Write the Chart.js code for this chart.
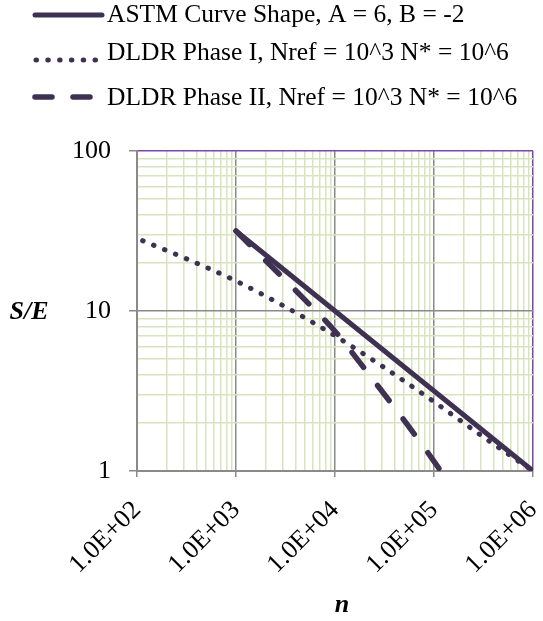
<!DOCTYPE html>
<html>
<head>
<meta charset="utf-8">
<script src="https://cdn.jsdelivr.net/npm/chart.js@4.4.0/dist/chart.umd.min.js"></script>
<style>
  html, body { margin: 0; padding: 0; background: #fff; }
  canvas { display: block; }
</style>
</head>
<body>
<canvas id="myChart" width="543" height="621"></canvas>
<script>
  // series (n, S/E)
  const astmN = [1000, 1000000]
  const astmS = [31.62, 1]

  const phase1N = [114, 316, 1000, 3162, 10000, 31623, 100000, 316228, 1000000]
  const phase1S = [27.5, 21.2, 15.4, 10.6, 7.0, 4.42, 2.71, 1.63, 1.0]

  const phase2N = [1000, 2000, 5000, 10000, 20000, 50000, 100000, 117000]
  const phase2S = [31.62, 20.6, 11.7, 7.48, 4.34, 2.07, 1.15, 1.0]

  const seriesNames = [
    'ASTM Curve Shape, A = 6, B = -2',
    'DLDR Phase I, Nref = 10^3 N* = 10^6',
    'DLDR Phase II, Nref = 10^3 N* = 10^6'
  ]

  const xTicks = [100, 1000, 10000, 100000, 1000000]
  const xTickLabels = ['1.0E+02', '1.0E+03', '1.0E+04', '1.0E+05', '1.0E+06']
  const yTicks = [1, 10, 100]
  const yTickLabels = ['1', '10', '100']

  const lineColor = '#3f3151'
  const majorGrid = '#8a8a8a'
  const minorGrid = '#d7e4bd'
  const frameColor = '#7a48a8'
  const serif = "'Liberation Serif', 'Times New Roman', serif"

  const toPoints = (xs, ys) => xs.map((x, i) => ({ x: x, y: ys[i] }))

  // decade lines plus 2..9 minors
  function gridValues(majors) {
    const out = []
    majors.forEach((m, i) => {
      out.push(m)
      if (i < majors.length - 1) {
        for (let k = 2; k <= 9; k++) out.push(m * k)
      }
    })
    return out
  }

  function gridColor(majors, max) {
    return (c) => {
      const v = c.tick ? c.tick.value : null
      if (v === max) return frameColor
      return majors.includes(v) ? majorGrid : minorGrid
    }
  }

  function tickMarkColor(majors) {
    return (c) => (c.tick && majors.includes(c.tick.value)) ? majorGrid : 'rgba(0,0,0,0)'
  }

  const legendRows = [
    { y: 15, x0: 35, x1: 102, ty: 22 },
    { y: 60, x0: 36, x1: 96, ty: 60 },
    { y: 97, x0: 35, x1: 97, ty: 105 }
  ]

  const extras = {
    id: 'extras',
    beforeDraw(chart) {
      const ctx = chart.ctx
      ctx.save()
      ctx.fillStyle = '#fff'
      ctx.fillRect(0, 0, chart.width, chart.height)
      ctx.restore()
    },
    afterDraw(chart) {
      const ctx = chart.ctx
      ctx.save()
      chart.data.datasets.forEach((ds, i) => {
        const r = legendRows[i]
        ctx.beginPath()
        ctx.strokeStyle = ds.borderColor
        ctx.lineWidth = ds.borderWidth
        ctx.lineCap = ds.borderCapStyle || 'butt'
        ctx.setLineDash(i === 2 ? [17, 21] : (ds.borderDash || []))
        ctx.moveTo(r.x0, r.y)
        ctx.lineTo(r.x1, r.y)
        ctx.stroke()
        ctx.setLineDash([])
        ctx.fillStyle = '#000'
        ctx.font = '25.5px ' + serif
        ctx.textBaseline = 'alphabetic'
        ctx.textAlign = 'left'
        ctx.fillText(ds.label, 107, r.ty)
      })

      // axis titles
      ctx.font = 'italic bold 26px ' + serif
      ctx.textAlign = 'center'
      ctx.textBaseline = 'middle'
      ctx.fillText('S/E', 29, 312)
      const area = chart.chartArea
      ctx.fillText('n', (area.left + area.right) / 2 + 7, 605)
      ctx.restore()
    }
  }

  const ctx = document.getElementById('myChart')

  const myChart = new Chart(ctx, {
    type: 'scatter',
    data: {
      datasets: [{
        label: seriesNames[0],
        data: toPoints(astmN, astmS),
        showLine: true,
        borderColor: lineColor,
        borderWidth: 5,
        borderCapStyle: 'round',
        pointRadius: 0
      }, {
        label: seriesNames[1],
        data: toPoints(phase1N, phase1S),
        showLine: true,
        borderColor: lineColor,
        borderWidth: 5,
        borderCapStyle: 'round',
        borderDash: [0.5, 11.3],
        cubicInterpolationMode: 'monotone',
        pointRadius: 0
      }, {
        label: seriesNames[2],
        data: toPoints(phase2N, phase2S),
        showLine: true,
        borderColor: lineColor,
        borderWidth: 5.5,
        borderCapStyle: 'round',
        borderDash: [19, 23],
        cubicInterpolationMode: 'monotone',
        pointRadius: 0
      }]
    },
    options: {
      responsive: false,
      animation: false,
      layout: {
        padding: { top: 151, right: 10, left: 0, bottom: 0 }
      },
      plugins: {
        legend: { display: false },
        tooltip: { enabled: false }
      },
      scales: {
        x: {
          type: 'logarithmic',
          min: 100,
          max: 1000000,
          afterBuildTicks: (scale) => {
            scale.ticks = gridValues(xTicks).map(v => ({ value: v }))
          },
          afterFit: (scale) => {
            scale.height = 150
            scale.paddingRight = 0
            scale.paddingLeft = 0
          },
          grid: {
            color: gridColor(xTicks, 1000000),
            tickColor: tickMarkColor(xTicks),
            lineWidth: 1.5,
            tickLength: 6
          },
          border: { color: majorGrid, width: 2 },
          ticks: {
            autoSkip: false,
            minRotation: 45,
            maxRotation: 45,
            padding: 18,
            color: '#000',
            font: { family: serif, size: 26 },
            callback: (v) => {
              const i = xTicks.indexOf(v)
              return i >= 0 ? xTickLabels[i] : ''
            }
          }
        },
        y: {
          type: 'logarithmic',
          min: 1,
          max: 100,
          afterBuildTicks: (scale) => {
            scale.ticks = gridValues(yTicks).map(v => ({ value: v }))
          },
          afterFit: (scale) => { scale.width = 137 },
          grid: {
            color: gridColor(yTicks, 100),
            tickColor: tickMarkColor(yTicks),
            lineWidth: 1.5,
            tickLength: 8
          },
          border: { color: majorGrid, width: 2 },
          ticks: {
            autoSkip: false,
            padding: 18,
            color: '#000',
            font: { family: serif, size: 26 },
            callback: (v) => {
              const i = yTicks.indexOf(v)
              return i >= 0 ? yTickLabels[i] : ''
            }
          }
        }
      }
    },
    plugins: [extras]
  })
</script>
</body>
</html>
